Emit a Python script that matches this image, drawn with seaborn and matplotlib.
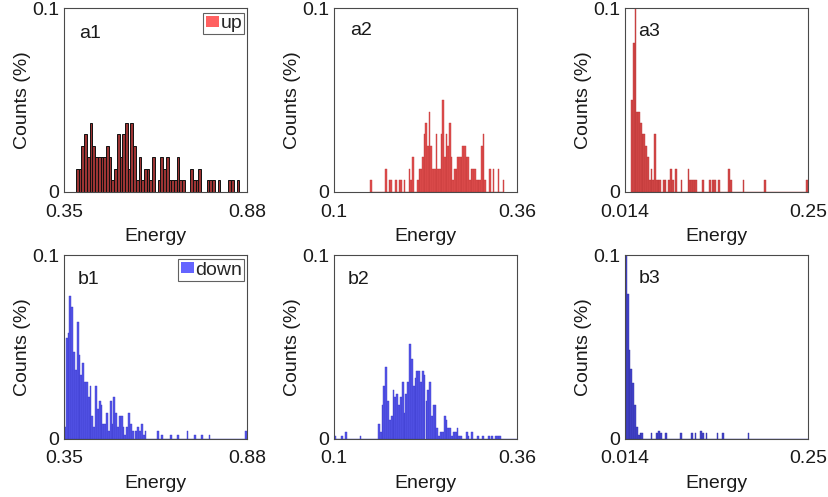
import numpy as np
import pandas as pd
import matplotlib
matplotlib.use("Agg")
import matplotlib.pyplot as plt
from matplotlib.patches import Patch
import seaborn as sns

# ---------------- data ----------------
UNIT_UP = 0.1 / 16          # one count in the "up" histograms (fraction)

a1_counts = [2, 2, 4, 5, 3, 6, 4, 3, 3, 3,
             3, 4, 3, 1, 2, 5, 3, 5, 6, 2,
             6, 4, 1, 3, 1, 2, 2, 1, 3, 0,
             1, 3, 2, 3, 1, 1, 1, 3, 1, 1,
             0, 0, 2, 1, 1, 2, 0, 0, 1, 1,
             1, 0, 1, 0, 0, 0, 1, 1, 0, 1]

a2_counts = [1, 0, 0, 0, 0, 0, 0, 0, 0, 2,
             0, 1, 1, 0, 0, 1, 0, 1, 1, 0,
             1, 0, 0, 2, 1, 3, 0, 0, 1, 2,
             2, 3, 5, 6, 4, 7, 4, 2, 2, 5,
             2, 2, 5, 8, 3, 5, 4, 6, 3, 1,
             2, 2, 3, 3, 3, 4, 4, 3, 3, 1,
             2, 2, 2, 1, 1, 1, 4, 5, 1, 0,
             0, 2, 0, 2, 0, 0, 2, 0, 0, 1]

a3_counts = [8, 13, 18, 7, 7, 6, 5, 5, 4, 3,
             1, 2, 1, 5, 1, 1, 1, 0, 1, 1,
             0, 1, 2, 1, 0, 2, 0, 0, 1, 0,
             0, 0, 2, 1, 1, 1, 1, 0, 0, 0,
             1, 0, 0, 0, 1, 0, 1, 1, 0, 1,
             0, 0, 0, 0, 0, 2, 1, 0, 0, 0,
             0, 0, 0, 1, 0, 0, 0, 0, 0, 0,
             0, 0, 0, 0, 0, 1, 0, 0, 0, 0,
             0, 0, 0, 0, 0, 0, 0, 0, 0, 0,
             0, 0, 0, 0, 0, 0, 0, 0, 0, 1]

b1_heights = [0.0061, 0.0550, 0.0574, 0.0777, 0.0716, 0.0474, 0.0371, 0.0634, 0.0453, 0.0348,
              0.0411, 0.0308, 0.0308, 0.0224, 0.0286, 0.0121, 0.0061, 0.0286, 0.0163, 0.0205,
              0.0185, 0.0080, 0.0080, 0.0140, 0.0040, 0.0205, 0.0080, 0.0224, 0.0140, 0.0061,
              0.0121, 0.0121, 0.0061, 0.0018, 0.0061, 0.0140, 0.0080, 0.0040, 0.0000, 0.0040,
              0.0061, 0.0040, 0.0080, 0.0018, 0.0040, 0.0000, 0.0000, 0.0000, 0.0000, 0.0000,
              0.0000, 0.0040, 0.0000, 0.0020, 0.0000, 0.0000, 0.0000, 0.0000, 0.0020, 0.0000,
              0.0000, 0.0000, 0.0020, 0.0000, 0.0000, 0.0000, 0.0000, 0.0040, 0.0000, 0.0000,
              0.0000, 0.0020, 0.0000, 0.0000, 0.0000, 0.0020, 0.0000, 0.0000, 0.0000, 0.0020,
              0.0000, 0.0000, 0.0000, 0.0000, 0.0000, 0.0000, 0.0000, 0.0000, 0.0000, 0.0000,
              0.0000, 0.0000, 0.0000, 0.0000, 0.0000, 0.0000, 0.0000, 0.0000, 0.0000, 0.0040]

b2_heights = [0.0013, 0.0000, 0.0000, 0.0000, 0.0013, 0.0000, 0.0036, 0.0000, 0.0000, 0.0000,
              0.0000, 0.0000, 0.0000, 0.0000, 0.0013, 0.0000, 0.0000, 0.0000, 0.0000, 0.0000,
              0.0000, 0.0000, 0.0000, 0.0000, 0.0080, 0.0036, 0.0185, 0.0288, 0.0390, 0.0203,
              0.0100, 0.0121, 0.0266, 0.0224, 0.0243, 0.0185, 0.0224, 0.0306, 0.0140, 0.0243,
              0.0306, 0.0514, 0.0433, 0.0288, 0.0330, 0.0370, 0.0370, 0.0306, 0.0370, 0.0348,
              0.0203, 0.0266, 0.0306, 0.0121, 0.0185, 0.0185, 0.0058, 0.0013, 0.0036, 0.0036,
              0.0121, 0.0100, 0.0058, 0.0058, 0.0013, 0.0036, 0.0036, 0.0058, 0.0013, 0.0013,
              0.0000, 0.0000, 0.0036, 0.0013, 0.0000, 0.0036, 0.0000, 0.0000, 0.0013, 0.0000,
              0.0000, 0.0013, 0.0000, 0.0000, 0.0013, 0.0000, 0.0013, 0.0000, 0.0013, 0.0013,
              0.0013, 0.0000, 0.0000, 0.0000, 0.0000, 0.0000, 0.0000, 0.0000, 0.0000, 0.0000]

b3_heights = [0.1000, 0.0790, 0.0480, 0.0380, 0.0300, 0.0180, 0.0060, 0.0020, 0.0030, 0.0030,
              0.0000, 0.0000, 0.0000, 0.0000, 0.0030, 0.0000, 0.0000, 0.0030, 0.0040, 0.0030,
              0.0000, 0.0000, 0.0030, 0.0000, 0.0000, 0.0000, 0.0000, 0.0000, 0.0000, 0.0000,
              0.0030, 0.0000, 0.0000, 0.0000, 0.0000, 0.0000, 0.0030, 0.0000, 0.0030, 0.0000,
              0.0000, 0.0040, 0.0030, 0.0000, 0.0030, 0.0000, 0.0000, 0.0000, 0.0000, 0.0000,
              0.0030, 0.0000, 0.0000, 0.0030, 0.0000, 0.0000, 0.0000, 0.0000, 0.0000, 0.0000,
              0.0000, 0.0000, 0.0000, 0.0000, 0.0000, 0.0000, 0.0000, 0.0030, 0.0000, 0.0000,
              0.0000, 0.0000, 0.0000, 0.0000, 0.0000, 0.0000, 0.0000, 0.0000, 0.0000, 0.0000,
              0.0000, 0.0000, 0.0000, 0.0000, 0.0000, 0.0000, 0.0000, 0.0000, 0.0000, 0.0000,
              0.0000, 0.0000, 0.0000, 0.0000, 0.0000, 0.0000, 0.0000, 0.0000, 0.0000, 0.0000]

x_tick_values = [(0.35, 0.88), (0.1, 0.36), (0.014, 0.25)]
x_tick_labels = [("0.35", "0.88"), ("0.1", "0.36"), ("0.014", "0.25")]
panel_labels = [["a1", "a2", "a3"], ["b1", "b2", "b3"]]
legend_labels = ["up", "down"]
y_tick_labels = ["0", "0.1"]

# ---------------- style ----------------
sns.set_theme(style="white")
plt.rcParams['font.family'] = ['Liberation Sans', 'DejaVu Sans']
plt.rcParams['font.size'] = 14

W, H = 829, 497
fig = plt.figure(figsize=(W / 100, H / 100), dpi=100)

col_left = [64, 334, 625]
row_top = [8.3, 255]
AXW, AXH = 183, 183.5
# bin extents as fractions of the axes width, and number of bins
bins_up = [(0.0656, 0.958, 60), (0.197, 0.931, 80), (0.033, 1.0, 100)]
bins_dn = [(0.0, 1.0, 100), (0.0, 1.0, 100), (0.0, 1.0, 100)]
label_pos = [[(0.083, 0.836), (0.087, 0.855), (0.069, 0.849)],
             [(0.073, 0.842), (0.073, 0.842), (0.073, 0.845)]]
legend_anchor = [(0.986, 0.976), (0.986, 0.977)]

up_data = [np.array(a1_counts) * UNIT_UP, np.array(a2_counts) * UNIT_UP,
           np.array(a3_counts) * UNIT_UP]
dn_data = [np.array(b1_heights), np.array(b2_heights), np.array(b3_heights)]

styles = {
    0: [dict(color="#9c3434", edgecolor="#111111", linewidth=0.7),
        dict(color="#e04d4d", edgecolor="#c23a3a", linewidth=0.3),
        dict(color="#d44848", edgecolor="#b83535", linewidth=0.3)],
    1: [dict(color="#5555ea", edgecolor="#3a3ac8", linewidth=0.3),
        dict(color="#5555ea", edgecolor="#3a3ac8", linewidth=0.3),
        dict(color="#4444cc", edgecolor="#2f2fa0", linewidth=0.3)],
}
legend_colors = ["#ff6060", "#6464ff"]
spine_color = "#4a4a4a"
text_color = "#1a1a1a"

for r in range(2):
    for c in range(3):
        left = col_left[c]
        top = row_top[r]
        ax = fig.add_axes([left / W, 1 - (top + AXH) / H, AXW / W, AXH / H])
        t0, t1 = x_tick_values[c]
        span = t1 - t0
        b0, b1, nb = (bins_up if r == 0 else bins_dn)[c]
        edges = t0 + span * np.linspace(b0, b1, nb + 1)
        centers = 0.5 * (edges[:-1] + edges[1:])
        heights = (up_data if r == 0 else dn_data)[c]
        df = pd.DataFrame({"Energy": centers, "h": heights})
        sns.histplot(data=df, x="Energy", weights="h", bins=[float(e) for e in edges],
                     ax=ax, alpha=1.0, **styles[r][c])
        ax.set_xlim(t0, t1)
        ax.set_ylim(0, 0.1)
        ax.set_xticks([t0, t1])
        ax.set_xticklabels(list(x_tick_labels[c]))
        ax.set_yticks([0, 0.1])
        ax.set_yticklabels(y_tick_labels)
        ax.tick_params(axis="x", length=0, pad=8.6, labelsize=14, colors=text_color)
        ax.tick_params(axis="y", length=0, pad=3.5, labelsize=14, colors=text_color)
        ax.set_xlabel("Energy", fontsize=14, labelpad=5.5, color=text_color)
        ax.set_ylabel("Counts (%)", fontsize=14, labelpad=1.0, color=text_color)
        for s in ax.spines.values():
            s.set_visible(True)
            s.set_color(spine_color)
            s.set_linewidth(0.8)
        px, py = label_pos[r][c]
        ax.text(px, py, panel_labels[r][c], transform=ax.transAxes,
                fontsize=14, color=text_color, va="baseline", ha="left")
        if c == 0:
            h = Patch(facecolor=legend_colors[r], edgecolor="none")
            leg = ax.legend([h], [legend_labels[r]], loc="upper right",
                            bbox_to_anchor=legend_anchor[r],
                            frameon=True, fancybox=False, fontsize=14,
                            handlelength=0.7, handleheight=0.5,
                            handletextpad=0.05, borderpad=0.12,
                            borderaxespad=0.0)
            leg.get_frame().set_edgecolor("#3a3a3a")
            leg.get_frame().set_linewidth(0.8)

fig.savefig("out.png", dpi=100)
